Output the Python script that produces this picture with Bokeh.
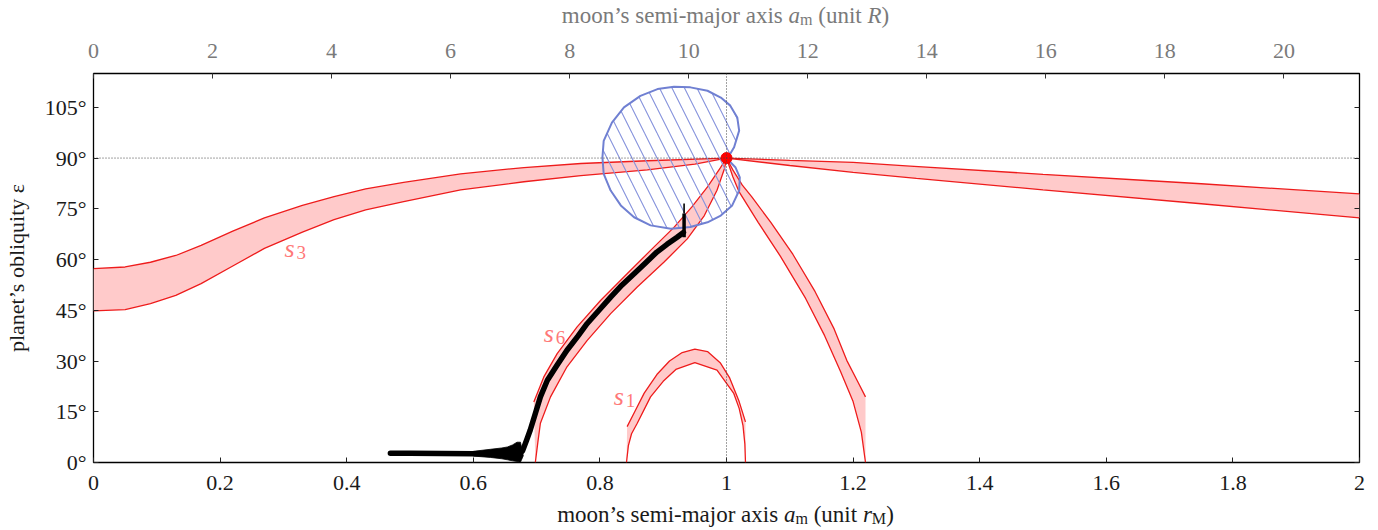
from bokeh.plotting import figure
from bokeh.layouts import column
from bokeh.models import (Range1d, LinearAxis, FixedTicker, Span, Label, CustomJSTickFormatter, Div)
from bokeh.embed import file_html
from bokeh.resources import INLINE

# ---------------- data ----------------
R_PER_RM = 10.635          # 1 r_M expressed in planet radii R
ref_obliquity = 90.0
ref_am = 1.0

# s3 band, branch a_m < 1
s3L_x_hi = [0.0, 0.05, 0.09, 0.13, 0.17, 0.22, 0.27, 0.33, 0.38, 0.43, 0.49, 0.58, 0.68, 0.77, 0.875, 1.0]
s3L_y_hi = [57.3, 57.8, 59.2, 61.2, 64.2, 68.4, 72.3, 76.0, 78.6, 80.9, 82.8, 85.3, 87.2, 88.4, 89.2, 90.0]
s3L_x_lo = [0.0, 0.05, 0.09, 0.13, 0.17, 0.22, 0.27, 0.33, 0.38, 0.43, 0.49, 0.58, 0.68, 0.77, 0.875, 0.95, 1.0]
s3L_y_lo = [44.8, 45.2, 47.0, 49.4, 52.9, 58.1, 63.3, 68.1, 71.8, 74.7, 77.1, 80.6, 83.0, 84.8, 86.5, 88.2, 90.0]
# s3 band, branch a_m > 1
s3R_x_hi = [1.0, 1.1, 1.2, 1.29, 1.5, 1.67, 1.75, 2.0]
s3R_y_hi = [90.0, 89.3, 88.7, 87.6, 85.2, 83.3, 82.4, 79.4]
s3R_x_lo = [1.0, 1.1, 1.2, 1.3, 1.5, 1.75, 2.0]
s3R_y_lo = [90.0, 87.8, 85.8, 84.0, 80.6, 76.5, 72.3]
# s6 band
s6_x_hi = [0.6956, 0.7114, 0.7325, 0.764, 0.801, 0.843, 0.88, 0.917, 0.945, 0.97, 0.99, 1.0]
s6_y_hi = [17.9, 25.3, 32.2, 40.1, 47.9, 55.8, 62.7, 69.5, 75.5, 81.5, 87.0, 90.0]
s6_x_lo = [0.698, 0.702, 0.706, 0.722, 0.748, 0.78, 0.817, 0.859, 0.901, 0.938, 0.965, 0.985, 0.997, 1.0]
s6_y_lo = [0.0, 6.0, 11.6, 19.4, 28.3, 36.1, 44.0, 51.9, 59.2, 66.1, 73.0, 80.5, 87.0, 90.0]
# unlabeled band descending from the 90 deg point
bR_x_hi = [1.0, 1.01, 1.025, 1.04, 1.07, 1.105, 1.14, 1.17, 1.19, 1.207, 1.2196]
bR_y_hi = [90.0, 86.5, 82.0, 78.5, 71.0, 61.5, 50.5, 39.5, 30.2, 24.0, 19.4]
bR_x_lo = [1.0, 1.01, 1.02, 1.05, 1.085, 1.125, 1.155, 1.18, 1.2, 1.213, 1.2196]
bR_y_lo = [90.0, 84.5, 80.0, 71.0, 61.0, 48.5, 37.5, 27.0, 18.0, 9.0, 0.0]
# s1 band
s1_x_hi = [0.843, 0.855, 0.87, 0.89, 0.91, 0.93, 0.95, 0.97, 0.99, 1.005, 1.02, 1.03]
s1_y_hi = [10.6, 15.0, 20.5, 26.0, 30.0, 32.5, 33.5, 32.8, 29.5, 25.0, 18.0, 12.0]
s1_x_lo = [0.842, 0.845, 0.85, 0.859, 0.88, 0.9, 0.92, 0.95, 0.985, 1.0115, 1.02, 1.026, 1.029, 1.03]
s1_y_lo = [0.0, 5.0, 8.5, 11.6, 19.4, 24.0, 27.5, 29.5, 27.3, 20.4, 16.0, 11.0, 5.5, 0.0]

# hatched (blue) region boundary
blue_x = [1.001, 1.012, 1.020, 1.017, 1.006, 0.991, 0.970, 0.943, 0.917, 0.891, 0.864, 0.838, 0.819, 0.806,
          0.804, 0.806, 0.817, 0.833, 0.854, 0.880, 0.912, 0.943, 0.970, 0.991, 1.009, 1.020, 1.021, 1.014, 1.004]
blue_y = [89.7, 93.2, 98.1, 102.0, 105.5, 107.9, 109.9, 110.9, 111.1, 110.4, 108.4, 105.0, 100.5, 95.1,
          90.2, 85.3, 80.4, 76.0, 72.5, 70.1, 69.1, 69.6, 71.0, 73.0, 76.0, 80.4, 84.3, 87.3, 89.2]

# numerical trajectory (black)
traj_x = [0.469, 0.50, 0.55, 0.60, 0.63, 0.65, 0.663, 0.672, 0.678, 0.684, 0.690, 0.698, 0.706, 0.717,
          0.733, 0.748, 0.765, 0.78, 0.80, 0.817, 0.835, 0.854, 0.872, 0.89, 0.906, 0.922, 0.932]
traj_y = [2.7, 2.7, 2.65, 2.6, 2.6, 2.6, 2.5, 2.4, 3.5, 6.5, 9.6, 14.5, 19.4, 24.3,
          29.0, 33.2, 37.3, 41.1, 45.3, 48.9, 52.5, 55.8, 59.0, 62.2, 64.5, 66.6, 68.0]
flare_x = [0.60, 0.627, 0.645, 0.654, 0.662, 0.669, 0.6745, 0.679, 0.6745, 0.669, 0.662, 0.654, 0.645, 0.627, 0.60]
flare_y = [3.3, 3.9, 4.3, 4.6, 5.2, 6.0, 6.0, 2.0, 0.1, 0.3, 0.5, 0.8, 1.1, 1.5, 1.9]
spike_x = 0.933
spike_y = [66.6, 73.6, 76.6]

# axes ticks
x_ticks = [0, 0.2, 0.4, 0.6, 0.8, 1, 1.2, 1.4, 1.6, 1.8, 2]
x_tick_labels = ["0", "0.2", "0.4", "0.6", "0.8", "1", "1.2", "1.4", "1.6", "1.8", "2"]
y_ticks = [0, 15, 30, 45, 60, 75, 90, 105]
y_tick_labels = ["0°", "15°", "30°", "45°", "60°", "75°", "90°", "105°"]
top_ticks = [0, 2, 4, 6, 8, 10, 12, 14, 16, 18, 20]

# axis titles
x_title_html = "moon’s semi-major axis <i>a</i>{m} (unit <i>r</i>{M})"
top_title_html = "moon’s semi-major axis <i>a</i>{m} (unit <i>R</i>)"
y_title = "planet’s obliquity ε"

# ---------------- style ----------------
FONT = "Liberation Serif"
RED = "#ee1c1c"
PINK = "#ffcaca"
BLUE = "#7080d2"
HATCH = "#8592dc"
LABEL_RED = "#ff7878"
GRAY = "#7a7a7a"
W = 1378
TOP_H, MAIN_H, BOT_H = 33, 467, 29

p = figure(width=W, height=MAIN_H, x_range=Range1d(0, 2), y_range=Range1d(0, 115),
           output_backend="svg", toolbar_location=None, title=None,
           min_border_left=0, min_border_right=19, min_border_top=0, min_border_bottom=38,
           x_axis_location=None, y_axis_location=None)
p.extra_x_ranges = {"top": Range1d(0, 2 * R_PER_RM)}
p.outline_line_color = "black"
p.outline_line_width = 1.3
p.background_fill_color = "white"
p.border_fill_color = "white"
p.xgrid.visible = False
p.ygrid.visible = False


def style_axis(ax, ticks, color, label_color, standoff):
    ax.ticker = FixedTicker(ticks=ticks)
    ax.axis_line_color = None
    ax.major_tick_in = 5
    ax.major_tick_out = 0
    ax.minor_tick_line_color = None
    ax.major_tick_line_color = color
    ax.major_tick_line_width = 1
    ax.major_label_text_font = FONT
    ax.major_label_text_font_size = "22px"
    ax.major_label_text_color = label_color
    ax.major_label_standoff = standoff


xb = LinearAxis()
style_axis(xb, x_ticks, "#222222", "#1a1a1a", 13)
xb.major_label_overrides = {t: s for t, s in zip(x_ticks, x_tick_labels)}
p.add_layout(xb, "below")

xt = LinearAxis(x_range_name="top")
style_axis(xt, top_ticks, "#333333", GRAY, 16)
p.add_layout(xt, "above")

# white (invisible) outer tick row: keeps room above the top tick labels inside this canvas
spacer = LinearAxis(x_range_name="top", ticker=FixedTicker(ticks=[21]), axis_line_color=None,
                    major_tick_in=0, major_tick_out=7, major_tick_line_color="white",
                    major_tick_line_width=1, minor_tick_line_color=None,
                    major_label_standoff=0, major_label_text_font_size="1px",
                    formatter=CustomJSTickFormatter(code="return ''"))
p.add_layout(spacer, "above")

yl = LinearAxis()
style_axis(yl, y_ticks, "#222222", "#1a1a1a", 7)
yl.major_label_overrides = {t: s for t, s in zip(y_ticks, y_tick_labels)}
yl.axis_label = y_title
yl.axis_label_text_font = FONT
yl.axis_label_text_font_size = "22px"
yl.axis_label_text_font_style = "normal"
yl.axis_label_text_color = "#1a1a1a"
yl.axis_label_standoff = 13
p.add_layout(yl, "left")

yr = LinearAxis()
style_axis(yr, y_ticks, "#222222", "#1a1a1a", 2)
yr.formatter = CustomJSTickFormatter(code="return ''")
p.add_layout(yr, "right")

# reference lines
p.add_layout(Span(location=ref_obliquity, dimension="width", line_color="#444444",
                  line_dash="1 2", line_width=1))
p.add_layout(Span(location=ref_am, dimension="height", line_color="#444444",
                  line_dash="1 2", line_width=1))


def band(xh, yh, xl, yl_):
    p.patch(xh + xl[::-1], yh + yl_[::-1], fill_color=PINK, line_color=None)
    p.line(xh, yh, line_color=RED, line_width=1.3)
    p.line(xl, yl_, line_color=RED, line_width=1.3)


band(s3L_x_hi, s3L_y_hi, s3L_x_lo, s3L_y_lo)
band(s3R_x_hi, s3R_y_hi, s3R_x_lo, s3R_y_lo)
band(s6_x_hi, s6_y_hi, s6_x_lo, s6_y_lo)
band(bR_x_hi, bR_y_hi, bR_x_lo, bR_y_lo)
band(s1_x_hi, s1_y_hi, s1_x_lo, s1_y_lo)

# hatched region
p.patch(blue_x, blue_y, fill_color=None, line_color=BLUE, line_width=2,
        hatch_pattern="\\", hatch_color=HATCH, hatch_scale=25, hatch_weight=1.1)

# trajectory
p.patch(flare_x, flare_y, fill_color="black", line_color="black", line_width=0.8)
p.line(traj_x, traj_y, line_color="black", line_width=5.5, line_join="round", line_cap="round")
p.segment(x0=[spike_x], y0=[spike_y[0]], x1=[spike_x], y1=[spike_y[1]], line_color="black", line_width=3.5)
p.segment(x0=[spike_x], y0=[spike_y[1]], x1=[spike_x], y1=[spike_y[2]], line_color="black", line_width=1.6)

# fixed point
p.scatter([ref_am], [ref_obliquity], size=11, fill_color="#ff0000", line_color="#ee0000")

# band labels (s_k)
for (xs, ys, sub) in [(0.3017, 63.2, "3"), (0.7114, 38.1, "6"), (0.822, 19.4, "1")]:
    p.add_layout(Label(x=xs, y=ys, text="s", text_font=FONT, text_font_style="italic",
                       text_font_size="26px", text_color=LABEL_RED, text_baseline="alphabetic"))
    p.add_layout(Label(x=xs, y=ys, x_offset=12, y_offset=-4, text=sub, text_font=FONT,
                       text_font_size="19px", text_color=LABEL_RED, text_baseline="alphabetic"))


# ---------------- axis titles as HTML (italic symbols, subscripts) ----------------
SUB = '<sub style="font-size:70%;vertical-align:-0.15em;line-height:0">{}</sub>'


def title_div(html, height, pad_top, color):
    html = html.replace("{m}", SUB.format("m")).replace("{M}", SUB.format("M"))
    inner = (f'<div style="box-sizing:border-box;width:{W}px;height:{height}px;margin:0;'
             f'padding-top:{pad_top}px;padding-left:73px;text-align:center;white-space:nowrap;'
             f"font-family:'{FONT}';font-size:23px;line-height:23px;color:{color};\">{html}</div>")
    return Div(text=inner, width=W, height=height, margin=0)


top_div = title_div(top_title_html, TOP_H, 4, GRAY)
bottom_div = title_div(x_title_html, BOT_H, 3, "#1a1a1a")

layout = column(top_div, p, bottom_div, spacing=0)
open("out.html", "w").write(file_html(layout, INLINE))
